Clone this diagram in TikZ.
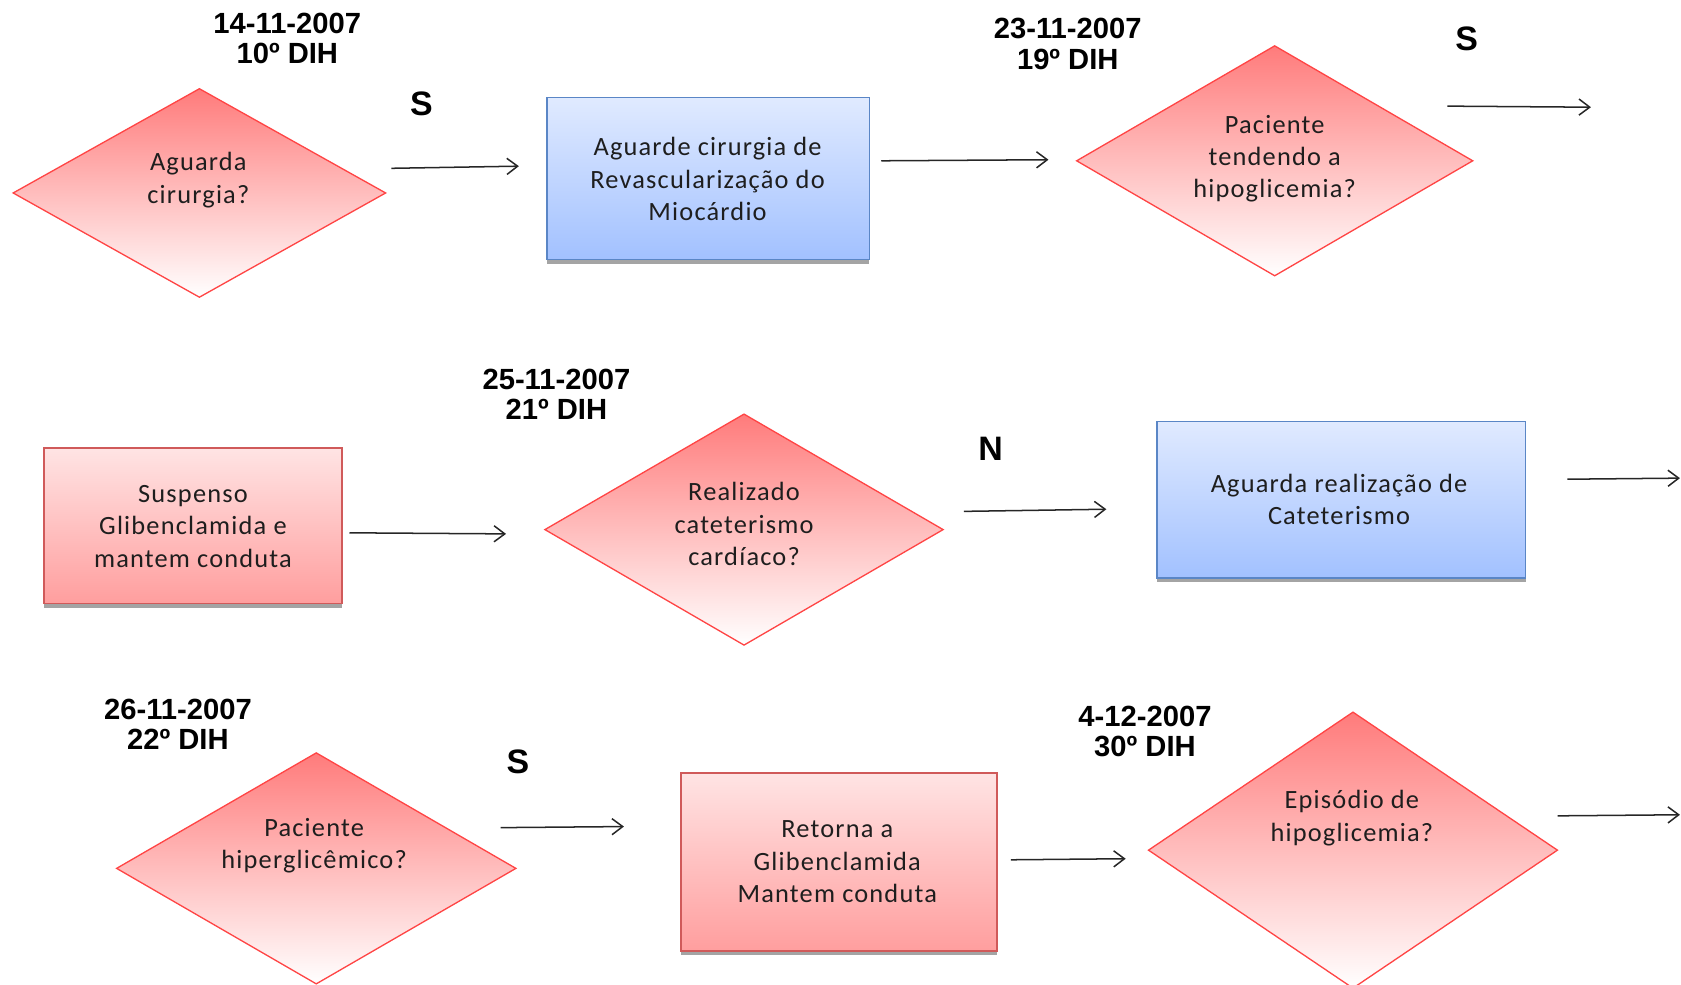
\documentclass[tikz,border=0pt]{standalone}
\usepackage{fontspec}
\setmainfont{Carlito}[LetterSpace=4.5]
\newfontfamily\datefont{Liberation Sans}
\usetikzlibrary{shapes.geometric,arrows.meta,shadows}

\definecolor{dtop}{HTML}{FF7B7B}
\definecolor{dline}{HTML}{FF4545}
\definecolor{rtop}{HTML}{FFE4E4}
\definecolor{rbot}{HTML}{FF9E9E}
\definecolor{rline}{HTML}{D05A5A}
\definecolor{btop}{HTML}{E0EAFF}
\definecolor{bbot}{HTML}{A2C1FF}
\definecolor{bline}{HTML}{5A86C6}
\definecolor{ink}{HTML}{1E1E1E}

\begin{document}
\begin{tikzpicture}[x=0.02cm,y=-0.02cm,
  decision/.style={diamond, draw=dline, line width=0.7pt,
    top color=dtop, bottom color=white, inner sep=0pt},
  boxshadow/.style={drop shadow={shadow xshift=0pt, shadow yshift=-0.08cm,
    fill=black!55, opacity=0.65}},
  redbox/.style={rectangle, draw=rline, line width=0.8pt,
    top color=rtop, bottom color=rbot, boxshadow},
  bluebox/.style={rectangle, draw=bline, line width=0.8pt,
    top color=btop, bottom color=bbot, boxshadow},
  body/.style={align=center, text=ink, font=\fontsize{14}{17.2}\selectfont, inner sep=0pt},
  datelabel/.style={align=center, text=black, inner sep=0pt,
    font=\datefont\bfseries\fontsize{15.5}{16}\selectfont},
  answer/.style={text=black, inner sep=0pt,
    font=\datefont\bfseries\fontsize{18}{20}\selectfont},
  arr/.style={draw=black!85, line width=0.8pt,
    -{Straight Barb[length=0.2cm,width=0.3cm]}}
]
\useasboundingbox (0,0) rectangle (1568,918);

% ---- first row ----
\node[datelabel] (date1) at (268,36) {14-11-2007\\10º DIH};
\node[decision, minimum width=6.96cm, minimum height=3.9cm] (d1) at (186,180) {};
\node[body] (t1) at (185,168) {Aguarda\\cirurgia?};
\node[answer] (s1) at (393,97) {S};
\node[bluebox, minimum width=6.02cm, minimum height=3.02cm] (b1) at (660.5,166.5) {};
\node[body] (tb1) at (660,167) {Aguarde cirurgia de\\Revascularização do\\Miocárdio};
\node[datelabel] (date2) at (996,41) {23-11-2007\\19º DIH};
\node[decision, minimum width=7.4cm, minimum height=4.3cm] (d2) at (1189,150) {};
\node[body] (t2) at (1189,148) {Paciente\\tendendo a\\hipoglicemia?};
\node[answer] (s2) at (1368,36) {S};

\coordinate (a1s) at (365,157); \coordinate (a1e) at (484,155);
\coordinate (a2s) at (822,150); \coordinate (a2e) at (978,149);
\coordinate (a3s) at (1350,99); \coordinate (a3e) at (1484,100);
\draw[arr] (a1s) -- (a1e);
\draw[arr] (a2s) -- (a2e);
\draw[arr] (a3s) -- (a3e);

% ---- second row ----
\node[redbox, minimum width=5.56cm, minimum height=2.9cm] (r1) at (180,490.5) {};
\node[body] (tr1) at (180,491) {Suspenso\\Glibenclamida e\\mantem conduta};
\node[datelabel] (date3) at (519,368) {25-11-2007\\21º DIH};
\node[decision, minimum width=7.44cm, minimum height=4.32cm] (d3) at (694,494) {};
\node[body] (t3) at (694,489) {Realizado\\cateterismo\\cardíaco?};
\node[answer] (n1) at (924,419) {N};
\node[bluebox, minimum width=6.88cm, minimum height=2.92cm] (b2) at (1251,466) {};
\node[body] (tb2) at (1249,466) {Aguarda realização de\\Cateterismo};

\coordinate (a4s) at (326,497); \coordinate (a4e) at (472,498);
\coordinate (a5s) at (899,477); \coordinate (a5e) at (1032,475);
\coordinate (a6s) at (1462,447); \coordinate (a6e) at (1567,446);
\draw[arr] (a4s) -- (a4e);
\draw[arr] (a5s) -- (a5e);
\draw[arr] (a6s) -- (a6e);

% ---- third row ----
\node[datelabel] (date4) at (166,676) {26-11-2007\\22º DIH};
\node[decision, minimum width=7.46cm, minimum height=4.32cm] (d4) at (295,810) {};
\node[body] (t4) at (293,789) {Paciente\\hiperglicêmico?};
\node[answer] (s3) at (483,711) {S};
\node[redbox, minimum width=5.9cm, minimum height=3.32cm] (r2) at (782.5,804) {};
\node[body] (tr2) at (781,804) {Retorna a\\Glibenclamida\\Mantem conduta};
\node[datelabel] (date5) at (1068,682) {4-12-2007\\30º DIH};
\node[decision, minimum width=7.64cm, minimum height=5.16cm] (d5) at (1262,793) {};
\node[body] (t5) at (1261,763) {Episódio de\\hipoglicemia?};

\coordinate (a7s) at (467,772); \coordinate (a7e) at (582,771);
\coordinate (a8s) at (943,802); \coordinate (a8e) at (1050,801);
\coordinate (a9s) at (1453,761); \coordinate (a9e) at (1567,760);
\draw[arr] (a7s) -- (a7e);
\draw[arr] (a8s) -- (a8e);
\draw[arr] (a9s) -- (a9e);
\end{tikzpicture}
\end{document}
